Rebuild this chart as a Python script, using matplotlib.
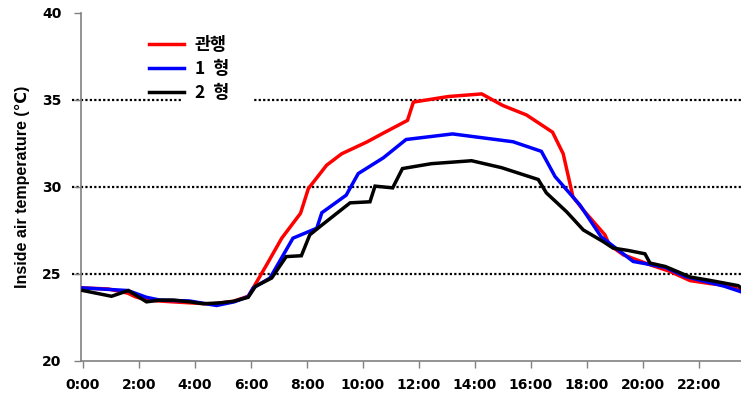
import matplotlib
matplotlib.use("Agg")
import matplotlib.pyplot as plt
from matplotlib.patches import Rectangle

# Inside air temperature over one day (hours since midnight, °C)
t_conv = [0.0, 0.9, 1.6, 1.86, 2.27, 3.2, 4.3, 4.65, 5.37, 5.9, 6.08, 6.56, 7.1,
          7.77, 8.05, 8.7, 9.24, 10.13, 10.73, 11.59, 11.8, 13.05, 14.24, 15.0,
          15.84, 16.77, 17.15, 17.5, 17.87, 18.64, 18.8, 19.3, 20.25, 20.96,
          21.68, 22.4, 23.2, 23.5]
temp_conv = [24.2, 24.14, 23.9, 23.7, 23.5, 23.4, 23.3, 23.29, 23.43, 23.72, 24.2,
             25.53, 27.06, 28.49, 29.91, 31.25, 31.91, 32.58, 33.1, 33.83, 34.88,
             35.2, 35.35, 34.68, 34.14, 33.15, 31.91, 29.43, 28.67, 27.25, 26.67,
             26.1, 25.53, 25.15, 24.62, 24.45, 24.3, 24.0]

t_type1 = [0.0, 1.6, 2.27, 2.75, 3.8, 4.77, 5.4, 5.9, 6.08, 6.68, 7.5, 8.35, 8.53,
           9.4, 9.83, 10.73, 11.54, 13.2, 15.36, 16.37, 16.86, 17.75, 18.5, 18.88,
           19.65, 20.1, 20.8, 21.5, 22.2, 22.9, 23.5]
temp_type1 = [24.2, 24.05, 23.66, 23.5, 23.45, 23.19, 23.4, 23.7, 24.2, 24.77,
              27.06, 27.63, 28.52, 29.53, 30.77, 31.68, 32.73, 33.05, 32.6, 32.05,
              30.6, 28.96, 27.15, 26.67, 25.72, 25.59, 25.38, 24.86, 24.58, 24.3,
              23.98]

t_type2 = [0.0, 1.02, 1.62, 2.27, 2.75, 3.23, 3.82, 4.3, 4.9, 5.37, 5.9, 6.16,
           6.74, 7.26, 7.8, 8.1, 8.46, 9.54, 10.25, 10.43, 11.06, 11.41, 12.44,
           13.88, 14.95, 16.26, 16.55, 17.27, 17.87, 18.58, 18.93, 19.48, 20.07,
           20.25, 20.8, 21.68, 22.4, 23.4, 23.5]
temp_type2 = [24.05, 23.72, 24.05, 23.4, 23.5, 23.5, 23.4, 23.29, 23.34, 23.43,
              23.66, 24.29, 24.77, 26.0, 26.05, 27.25, 27.72, 29.09, 29.15, 30.05,
              29.95, 31.06, 31.34, 31.51, 31.11, 30.43, 29.66, 28.58, 27.53, 26.86,
              26.49, 26.35, 26.16, 25.63, 25.43, 24.83, 24.63, 24.33, 24.2]

series_labels = ["관행", "1  형", "2  형"]
series_colors = ["#ff0000", "#0000ff", "#000000"]

x_ticks = list(range(0, 24, 2))
x_tick_labels = [f"{h}:00" for h in x_ticks]
y_ticks = [20, 25, 30, 35, 40]
grid_levels = [25, 30, 35]

fig = plt.figure(figsize=(7.41, 3.96), dpi=100)
ax = fig.add_axes([81 / 741, 1 - 361 / 396, 1 - 81 / 741, (361 - 13) / 396])

for lvl in grid_levels:
    ax.axhline(lvl, xmin=-0.014, xmax=1.0, color="black", lw=1.6,
               linestyle=(0, (1, 1)), clip_on=False, zorder=1)

for t, v, lab, col in zip([t_conv, t_type1, t_type2],
                          [temp_conv, temp_type1, temp_type2],
                          series_labels, series_colors):
    ax.plot(t, v, color=col, lw=2.5, label=lab, zorder=3, solid_joinstyle="miter")

ax.set_xlim(-0.07, 23.5)
ax.set_ylim(20, 40)
ax.set_xticks(x_ticks)
ax.set_xticklabels(x_tick_labels)
ax.set_yticks(y_ticks)

for s in ["top", "right"]:
    ax.spines[s].set_visible(False)
for s in ["left", "bottom"]:
    ax.spines[s].set_color("#808080")
    ax.spines[s].set_linewidth(1.2)

ax.tick_params(axis="both", direction="out", length=5, width=1, color="#808080",
               labelsize=10)
ax.tick_params(axis="x", pad=7)
ax.tick_params(axis="y", pad=9)
for lbl in ax.get_xticklabels() + ax.get_yticklabels():
    lbl.set_fontweight("bold")
    lbl.set_family("DejaVu Sans")

ax.set_ylabel("Inside air temperature (℃)", fontsize=11.5, fontweight="bold",
              family=["Liberation Sans", "DejaVu Sans"], labelpad=9)

# white backing behind the legend text, above the grid but below the legend
ax.add_patch(Rectangle((181 / 741, 1 - 105 / 396), 72 / 741, 12 / 396,
                       transform=fig.transFigure, facecolor="white",
                       edgecolor="none", zorder=2, clip_on=False))

leg = ax.legend(loc="upper left", bbox_to_anchor=(0.08, 0.98), frameon=False,
                handlelength=2.0, handletextpad=0.6, labelspacing=0.35,
                prop={"family": ["Noto Sans CJK KR", "DejaVu Sans"],
                      "weight": "bold", "size": 12.5})
leg.set_zorder(5)

fig.savefig("out.png", dpi=100)
